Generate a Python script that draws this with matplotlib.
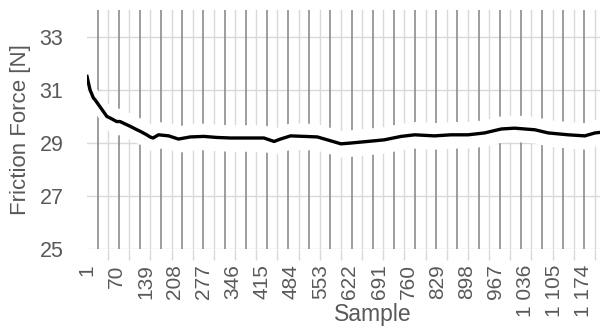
import matplotlib.pyplot as plt
from matplotlib.ticker import FixedLocator
import numpy as np

plt.rcParams['font.family'] = ['Liberation Sans', 'DejaVu Sans']

# friction force trace, read at sample positions
sample = [1, 8, 16, 20, 32, 48, 56, 71, 79, 95, 103, 119, 127, 142, 150, 157,
          170, 194, 217, 245, 277, 308, 340, 380, 419, 443, 458, 482, 514, 545,
          569, 601, 624, 664, 703, 743, 775, 822, 861, 901, 940, 980, 1011,
          1059, 1091, 1138, 1177, 1201, 1212]
force = [31.50, 31.00, 30.69, 30.62, 30.35, 29.99, 29.93, 29.80, 29.80, 29.68,
         29.62, 29.49, 29.43, 29.30, 29.22, 29.18, 29.30, 29.26, 29.14, 29.22,
         29.24, 29.20, 29.18, 29.18, 29.18, 29.05, 29.14, 29.26, 29.24, 29.22,
         29.11, 28.96, 28.99, 29.05, 29.11, 29.24, 29.30, 29.26, 29.30, 29.30,
         29.37, 29.52, 29.55, 29.49, 29.37, 29.30, 29.26, 29.37, 29.39]

label_ticks = list(range(1, 1175, 69))
grid_ticks = list(range(1, 1202, 50))
dark_lines = list(range(26, 1177, 50))
y_ticks = [25, 27, 29, 31, 33]

x = np.array(sample)
y = np.array(force)

fig = plt.figure(figsize=(6.01, 3.29), dpi=100)
ax = fig.add_axes([87/601, 80/329, 513/601, 239/329])

ax.set_xlim(1, 1213)
ax.set_ylim(25, 34)

txt = '#595959'
light = '#d9d9d9'

ax.xaxis.set_major_locator(FixedLocator(label_ticks))
ax.xaxis.set_minor_locator(FixedLocator(grid_ticks))
ax.set_xticklabels([f'{t:,}'.replace(',', ' ') for t in label_ticks],
                   rotation=90, fontsize=15, color=txt)
ax.tick_params(axis='x', which='major', length=0, pad=11)
ax.tick_params(axis='x', which='minor', length=8, width=1, color=light)
ax.grid(True, axis='x', which='minor', color=light, lw=1, zorder=0.5)

ax.set_yticks(y_ticks)
ax.set_yticklabels([str(t) for t in y_ticks], fontsize=15.5, color=txt)
ax.tick_params(axis='y', length=0, pad=17)
ax.grid(True, axis='y', which='major', color=light, lw=1, zorder=0.5)
ax.set_axisbelow(True)

for s in ax.spines.values():
    s.set_visible(False)

# darker vertical lines between the grid lines
ax.vlines(dark_lines, 25, 34, colors='#8c8c8c', lw=1.2, zorder=0.6)

# white halo around the trace hides the lines behind it
ax.fill_between(x, y - 0.5, y + 0.5, color='white', lw=0, zorder=1)
ax.plot(x, y, color='black', lw=2.4, zorder=3)

ax.set_ylabel('Friction Force [N]', fontsize=16, color=txt)
ax.yaxis.set_label_coords(-0.109, 0.5)
fig.text(373/601, 1 - 315/329, 'Sample', fontsize=16.5, color=txt,
         ha='center', va='center')

fig.savefig('out.png', dpi=100)
